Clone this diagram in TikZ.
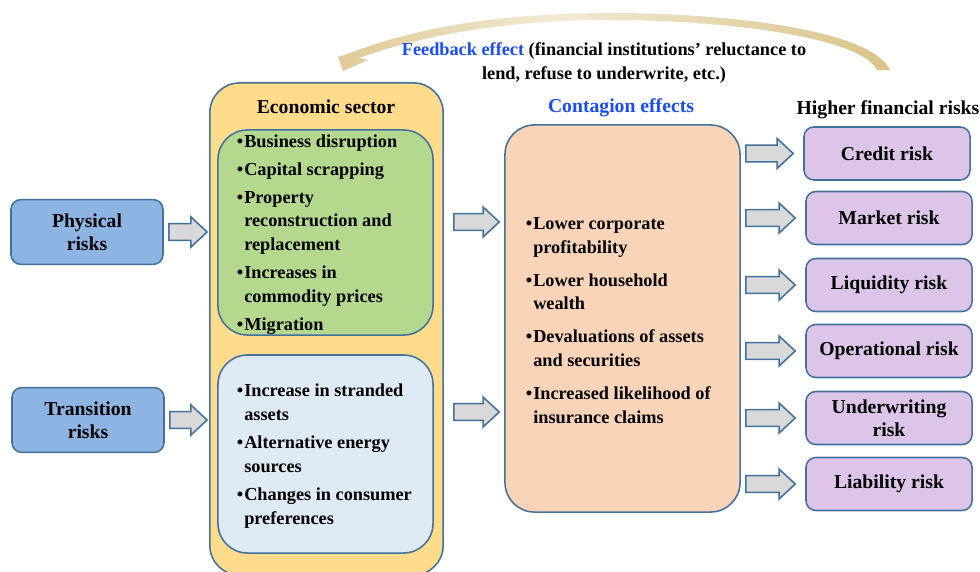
\documentclass[tikz,border=0pt]{standalone}
\usepackage{fontspec}
\setmainfont{Liberation Serif}
\usetikzlibrary{calc}

\definecolor{riskblue}{HTML}{8EB4E3}
\definecolor{edgeblue}{HTML}{41719C}
\definecolor{arrowgray}{HTML}{D9D9D9}
\definecolor{econyellow}{HTML}{FFDC8C}
\definecolor{physgreen}{HTML}{B4D98E}
\definecolor{transblue}{HTML}{DEEAF6}
\definecolor{contpeach}{HTML}{F9D4B9}
\definecolor{finpurple}{HTML}{DDC5EA}
\definecolor{headblue}{HTML}{1A4DF2}
\definecolor{fbgold}{HTML}{C4A24C}
\definecolor{fbpale}{HTML}{F2EAD2}

\pgfdeclarehorizontalshading{goldfade}{100bp}{color(0bp)=(fbgold); color(45bp)=(fbpale); color(100bp)=(fbgold)}

% bullet hanging left of the text
\newcommand{\bul}{\llap{\textbullet\hspace{0.8pt}}}

% horizontal block arrow, height taken from the first point
\newcommand{\blockarrow}[2]{%
  \path[blockarr] let \p1=#1, \p2=#2 in
    (\x1,\y1+6pt) -- (\x2-11.5pt,\y1+6pt) -- (\x2-11.5pt,\y1+10.7pt) -- (\x2,\y1)
    -- (\x2-11.5pt,\y1-10.7pt) -- (\x2-11.5pt,\y1-6pt) -- (\x1,\y1-6pt) -- cycle;}

\begin{document}
\begin{tikzpicture}[
    x=0.025cm, y=-0.025cm,
    font=\fontsize{14}{16.4}\selectfont\bfseries,
    riskbox/.style={rectangle, rounded corners=7pt, draw=edgeblue, line width=1.1pt, fill=riskblue, align=center, inner sep=0pt, minimum width=3.8cm, minimum height=1.62cm},
    sector/.style={rectangle, rounded corners=21pt, draw=edgeblue, line width=1.1pt, fill=econyellow, minimum width=5.83cm, minimum height=12.3cm},
    listbox/.style={rectangle, rounded corners=21pt, draw=edgeblue, line width=1.1pt, minimum width=5.375cm},
    items/.style={align=left, inner sep=0pt, anchor=west, font=\fontsize{13}{16.9}\selectfont\bfseries},
    contbox/.style={rectangle, rounded corners=21pt, draw=edgeblue, line width=1.1pt, fill=contpeach, minimum width=5.875cm, minimum height=9.675cm},
    finbox/.style={rectangle, rounded corners=7pt, draw=edgeblue, line width=1.1pt, fill=finpurple, align=center, inner sep=0pt, minimum width=4.15cm, minimum height=1.325cm},
    blockarr/.style={draw=edgeblue, line width=1.1pt, fill=arrowgray, line join=miter},
]
    \useasboundingbox (0,0) rectangle (980,572);

    % feedback loop on top
    \shade[shading=goldfade] (890,70) .. controls (870,28) and (720,13) .. (610,13)
        .. controls (480,13) and (400,34) .. (353,52)
        -- (338,57) -- (343,71) -- (368,60) -- (359,58)
        .. controls (410,40) and (490,20) .. (610,20)
        .. controls (720,20) and (860,36) .. (877,70) -- cycle;
    \node (fbtext) at (604,63) [align=center, font=\fontsize{13}{16.9}\selectfont\bfseries] {\textcolor{headblue}{Feedback effect} (financial institutions’ reluctance to\\lend, refuse to underwrite, etc.)};

    % climate risks
    \node (phys) [riskbox] at (87,232) {Physical\\risks};
    \node (trans) [riskbox] at (88,420) {Transition\\risks};

    % economic sector
    \node (econ) [sector] at (326.5,329) {};
    \node (econhead) at (326,107) {Economic sector};
    \node (physlist) [listbox, fill=physgreen, minimum height=5.125cm] at (325.5,232.5) {};
    \node (physitems) [items] at (244,234.5) {%
        \bul Business disruption\\[3pt]
        \bul Capital scrapping\\[3pt]
        \bul Property\\reconstruction and\\replacement\\[3pt]
        \bul Increases in\\commodity prices\\[3pt]
        \bul Migration};
    \node (translist) [listbox, fill=transblue, minimum height=4.95cm] at (325.5,454) {};
    \node (transitems) [items] at (244,456) {%
        \bul Increase in stranded\\assets\\[3pt]
        \bul Alternative energy\\sources\\[3pt]
        \bul Changes in consumer\\preferences};

    % contagion
    \node (conthead) [text=headblue] at (621,108) {Contagion effects};
    \node (cont) [contbox] at (622.5,318.5) {};
    \node (contitems) [items] at (533,320.5) {%
        \bul Lower corporate\\profitability\\[6.5pt]
        \bul Lower household\\wealth\\[6.5pt]
        \bul Devaluations of assets\\and securities\\[6.5pt]
        \bul Increased likelihood of\\insurance claims};

    % financial risks
    \node (riskhead) at (888,110) {Higher financial risks};
    \node (credit) [finbox] at (887,153.5) {Credit risk};
    \node (market) [finbox] at (889,218) {Market risk};
    \node (liquidity) [finbox] at (889,285) {Liquidity risk};
    \node (operational) [finbox] at (889,351) {Operational risk};
    \node (underwriting) [finbox] at (889,418) {Underwriting\\risk};
    \node (liability) [finbox] at (889,484) {Liability risk};

    % block arrows
    \blockarrow{($(phys.east)+(5,0)$)}{($(econ.west)+(-2,0)$)}
    \blockarrow{($(trans.east)+(5,0)$)}{($(econ.west)+(-2,0)$)}
    \blockarrow{($(econ.east |- phys)+(10,-10)$)}{($(cont.west)+(-5,0)$)}
    \blockarrow{($(econ.east |- trans)+(10,-8)$)}{($(cont.west)+(-5,0)$)}
    \foreach \r in {credit,market,liquidity,operational,underwriting,liability}
        \blockarrow{($(cont.east |- \r)+(5,0)$)}{($(\r.west)+(-10,0)$)};

\end{tikzpicture}
\end{document}
